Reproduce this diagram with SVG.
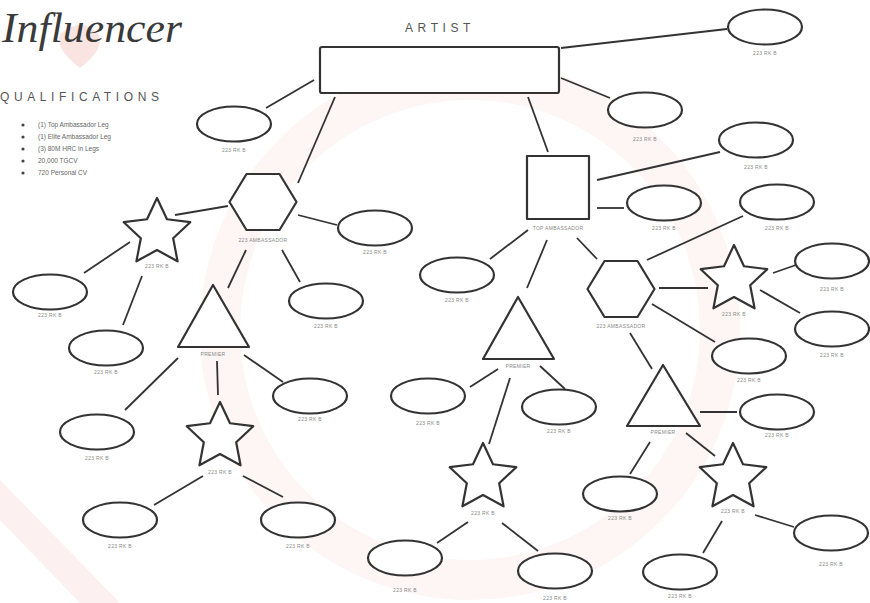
<svg xmlns="http://www.w3.org/2000/svg" width="870" height="603" viewBox="0 0 870 603">
<style>
.sh{fill:#fff;stroke:#333;stroke-width:2.2;stroke-linejoin:round}
.ln{stroke:#333;stroke-width:1.8;fill:none}
.lb{font-family:"Liberation Sans",Arial,sans-serif;font-size:5px;fill:#888;text-anchor:middle;letter-spacing:0.3px}
.hd{font-family:"Liberation Sans",Arial,sans-serif;font-size:12px;fill:#555;letter-spacing:4.6px}
.q{font-family:"Liberation Sans",Arial,sans-serif;font-size:6.5px;fill:#666}
</style>
<defs>
<path id="star" d="M0,-35 L9.99,-13.75 L33.29,-10.82 L16.17,5.25 L20.57,28.32 L0,17 L-20.57,28.32 L-16.17,5.25 L-33.29,-10.82 L-9.99,-13.75 Z"/>
<polygon id="hex" points="-33.5,0 -16.5,-28 16.5,-28 33.5,0 16.5,28 -16.5,28"/>
<ellipse id="ell" cx="0" cy="0" rx="37" ry="17.5"/>
</defs>
<rect width="870" height="603" fill="#fff"/>
<g id="background">
<circle cx="470" cy="330" r="250" fill="none" stroke="#fdf6f5" stroke-width="40"/>
<path d="M0,480 L120,603 L80,603 L0,520 Z" fill="#fcf1f0"/>
<path d="M60,34 Q82,16 98,34 Q106,48 80,68 Q54,48 60,34 Z" fill="#f9e4e2"/>
</g>
<g id="title">
<text x="2" y="42" font-family="Liberation Serif,serif" font-style="italic" font-size="42" fill="#3a3a3a" textLength="180" lengthAdjust="spacingAndGlyphs">Influencer</text>
<text class="hd" x="0" y="101">QUALIFICATIONS</text>
<g class="q">
<circle cx="23" cy="125" r="1.6" fill="#444"/><text x="38" y="127">(1) Top Ambassador Leg</text>
<circle cx="23" cy="137" r="1.6" fill="#444"/><text x="38" y="139">(1) Elite Ambassador Leg</text>
<circle cx="23" cy="149" r="1.6" fill="#444"/><text x="38" y="151">(3) 80M HRC in Legs</text>
<circle cx="23" cy="161" r="1.6" fill="#444"/><text x="38" y="163">20,000 TGCV</text>
<circle cx="23" cy="173" r="1.6" fill="#444"/><text x="38" y="175">720 Personal CV</text>
</g>
<text class="hd" x="405" y="32">ARTIST</text>
</g>
<g id="connectors">
<path class="ln" d="M561,48 L727,29"/>
<path class="ln" d="M561,78 L610,98"/>
<path class="ln" d="M266,108 L314,80"/>
<path class="ln" d="M335,97 L298,183"/>
<path class="ln" d="M528,97 L548,152"/>
<path class="ln" d="M175,215 L228,206"/>
<path class="ln" d="M130,242 L84,273"/>
<path class="ln" d="M142,276 L123,325"/>
<path class="ln" d="M298,215 L337,225"/>
<path class="ln" d="M282,250 L300,282"/>
<path class="ln" d="M246,250 L228,288"/>
<path class="ln" d="M178,358 L125,410"/>
<path class="ln" d="M217,361 L218,395"/>
<path class="ln" d="M244,355 L283,382"/>
<path class="ln" d="M203,476 L154,505"/>
<path class="ln" d="M243,476 L283,497"/>
<path class="ln" d="M597,180 L720,152"/>
<path class="ln" d="M597,208 L624,208"/>
<path class="ln" d="M647,260 L743,216"/>
<path class="ln" d="M528,230 L490,259"/>
<path class="ln" d="M547,240 L527,288"/>
<path class="ln" d="M577,238 L597,259"/>
<path class="ln" d="M659,288 L708,288"/>
<path class="ln" d="M773,273 L796,265"/>
<path class="ln" d="M760,290 L800,313"/>
<path class="ln" d="M652,304 L715,342"/>
<path class="ln" d="M630,333 L652,369"/>
<path class="ln" d="M700,412 L737,412"/>
<path class="ln" d="M650,442 L630,474"/>
<path class="ln" d="M686,433 L715,456"/>
<path class="ln" d="M755,515 L794,527"/>
<path class="ln" d="M722,521 L703,553"/>
<path class="ln" d="M498,369 L470,387"/>
<path class="ln" d="M540,366 L565,389"/>
<path class="ln" d="M510,378 L489,444"/>
<path class="ln" d="M468,522 L437,543"/>
<path class="ln" d="M502,523 L538,551"/>
</g>
<g id="artist"><rect class="sh" x="320" y="47" width="239" height="46" rx="2"/></g>
<g id="e1"><use href="#ell" class="sh" x="765" y="27"/><text class="lb" x="765" y="55">223 RK B</text></g>
<g id="e2"><use href="#ell" class="sh" x="645" y="110"/><text class="lb" x="645" y="141">223 RK B</text></g>
<g id="e3"><use href="#ell" class="sh" x="756" y="140"/><text class="lb" x="756" y="169">223 RK B</text></g>
<g id="e4"><use href="#ell" class="sh" x="234" y="124"/><text class="lb" x="234" y="152">223 RK B</text></g>
<g id="h1"><use href="#hex" class="sh" x="263" y="202"/><text class="lb" x="263" y="242">223 AMBASSADOR</text></g>
<g id="s1"><use href="#star" class="sh" x="157" y="233"/><text class="lb" x="157" y="268">223 RK B</text></g>
<g id="e5"><use href="#ell" class="sh" x="50" y="292"/><text class="lb" x="50" y="317">223 RK B</text></g>
<g id="e6"><use href="#ell" class="sh" x="106" y="348"/><text class="lb" x="106" y="374">223 RK B</text></g>
<g id="e7"><use href="#ell" class="sh" x="375" y="228"/><text class="lb" x="375" y="254">223 RK B</text></g>
<g id="e8"><use href="#ell" class="sh" x="326" y="301"/><text class="lb" x="326" y="328">223 RK B</text></g>
<g id="t1"><polygon class="sh" points="213,285 178,347 249,347"/><text class="lb" x="213" y="356">PREMIER</text></g>
<g id="e9"><use href="#ell" class="sh" x="97" y="432"/><text class="lb" x="97" y="460">223 RK B</text></g>
<g id="s2"><use href="#star" class="sh" x="220" y="437"/><text class="lb" x="220" y="474">223 RK B</text></g>
<g id="e10"><use href="#ell" class="sh" x="310" y="396"/><text class="lb" x="310" y="421">223 RK B</text></g>
<g id="e11"><use href="#ell" class="sh" x="120" y="520"/><text class="lb" x="120" y="548">223 RK B</text></g>
<g id="e12"><use href="#ell" class="sh" x="298" y="520"/><text class="lb" x="298" y="548">223 RK B</text></g>
<g id="sq"><rect class="sh" x="527" y="156" width="62" height="63"/><text class="lb" x="558" y="230">TOP AMBASSADOR</text></g>
<g id="e13"><use href="#ell" class="sh" x="664" y="203"/><text class="lb" x="664" y="230">223 RK B</text></g>
<g id="e14"><use href="#ell" class="sh" x="777" y="202"/><text class="lb" x="777" y="230">223 RK B</text></g>
<g id="e15"><use href="#ell" class="sh" x="457" y="275"/><text class="lb" x="457" y="302">223 RK B</text></g>
<g id="h2"><use href="#hex" class="sh" x="621" y="289"/><text class="lb" x="621" y="328">223 AMBASSADOR</text></g>
<g id="s3"><use href="#star" class="sh" x="734" y="280"/><text class="lb" x="734" y="316">223 RK B</text></g>
<g id="e16"><use href="#ell" class="sh" x="832" y="261"/><text class="lb" x="832" y="291">223 RK B</text></g>
<g id="e17"><use href="#ell" class="sh" x="832" y="329"/><text class="lb" x="832" y="357">223 RK B</text></g>
<g id="e18"><use href="#ell" class="sh" x="749" y="356"/><text class="lb" x="749" y="382">223 RK B</text></g>
<g id="t3"><polygon class="sh" points="663,365 627,426 700,426"/><text class="lb" x="663" y="434">PREMIER</text></g>
<g id="e19"><use href="#ell" class="sh" x="777" y="412"/><text class="lb" x="777" y="437">223 RK B</text></g>
<g id="e20"><use href="#ell" class="sh" x="620" y="494"/><text class="lb" x="620" y="520">223 RK B</text></g>
<g id="s4"><use href="#star" class="sh" x="733" y="478"/><text class="lb" x="733" y="513">223 RK B</text></g>
<g id="e21"><use href="#ell" class="sh" x="831" y="533"/><text class="lb" x="831" y="566">223 RK B</text></g>
<g id="e22"><use href="#ell" class="sh" x="680" y="572"/><text class="lb" x="680" y="598">223 RK B</text></g>
<g id="t2"><polygon class="sh" points="518,297 483,359 554,359"/><text class="lb" x="518" y="368">PREMIER</text></g>
<g id="e23"><use href="#ell" class="sh" x="428" y="396"/><text class="lb" x="428" y="425">223 RK B</text></g>
<g id="e24"><use href="#ell" class="sh" x="559" y="407"/><text class="lb" x="559" y="433">223 RK B</text></g>
<g id="s5"><use href="#star" class="sh" x="483" y="478"/><text class="lb" x="483" y="515">223 RK B</text></g>
<g id="e25"><use href="#ell" class="sh" x="405" y="558"/><text class="lb" x="405" y="592">223 RK B</text></g>
<g id="e26"><use href="#ell" class="sh" x="555" y="571"/><text class="lb" x="555" y="600">223 RK B</text></g>
</svg>
